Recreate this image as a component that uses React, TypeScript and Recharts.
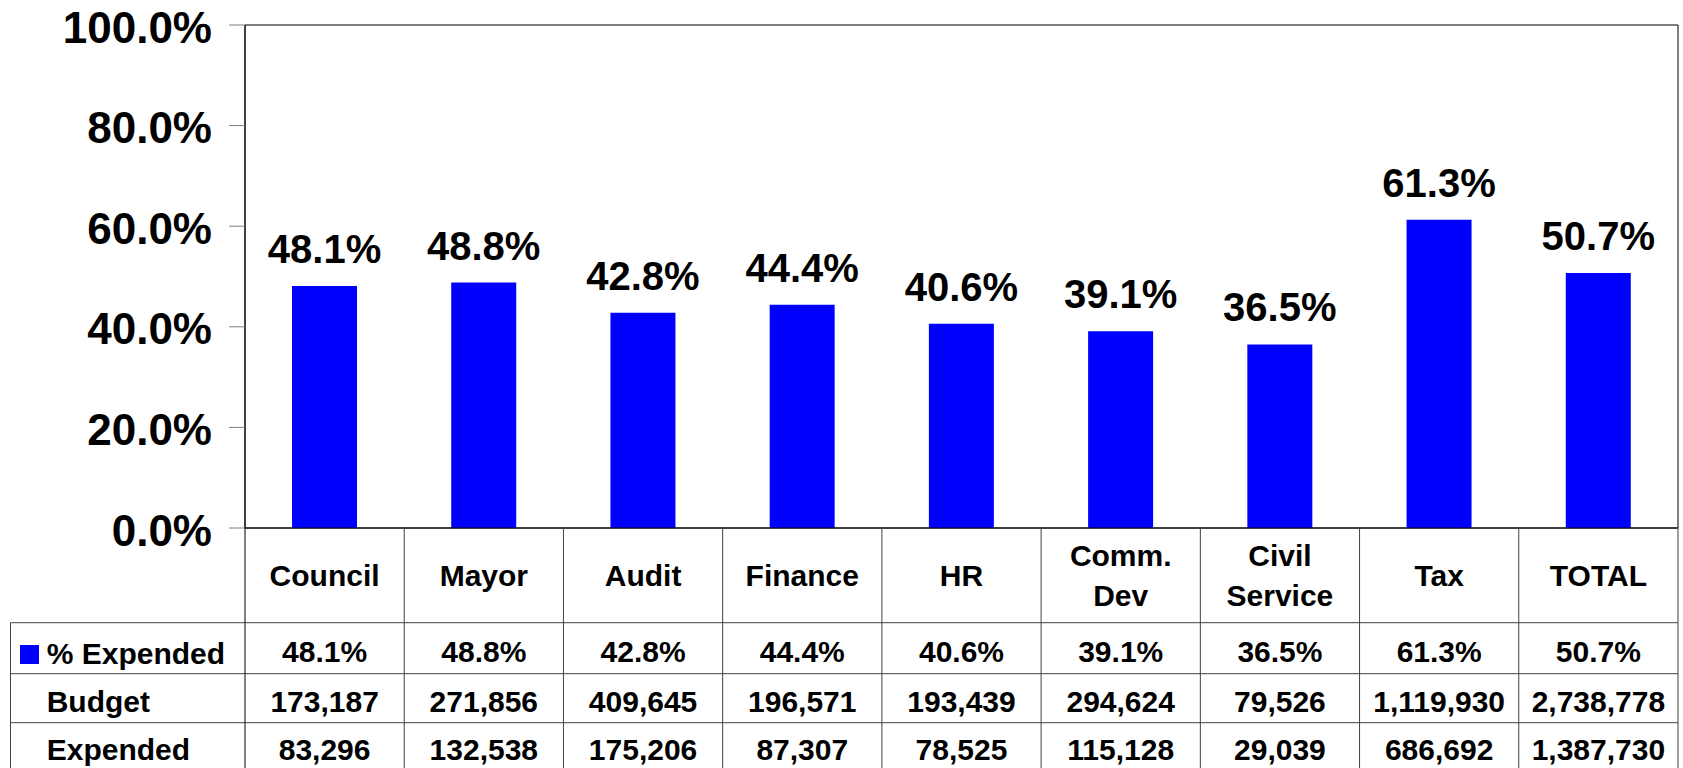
import React from 'react';
import { BarChart, Bar, XAxis, YAxis, LabelList, ReferenceArea } from 'recharts';

const categories = ['Council', 'Mayor', 'Audit', 'Finance', 'HR', 'Comm.\nDev', 'Civil\nService', 'Tax', 'TOTAL'];
const pctExpended = [48.1, 48.8, 42.8, 44.4, 40.6, 39.1, 36.5, 61.3, 50.7];
const budget = [173187, 271856, 409645, 196571, 193439, 294624, 79526, 1119930, 2738778];
const expended = [83296, 132538, 175206, 87307, 78525, 115128, 29039, 686692, 1387730];
const yTicks = [0, 20, 40, 60, 80, 100];
const rowLabels = ['% Expended', 'Budget', 'Expended'];

const data = categories.map((name, i) => ({ name, pct: pctExpended[i] }));

const FONT = '"Liberation Sans", Arial, Helvetica, sans-serif';
const BLUE = '#0000FF';
const LINE = '#404040';
const fmtPct = (v: number) => `${Number(v).toFixed(1)}%`;
const fmtNum = (n: number) => n.toLocaleString('en-US');

const TableTick = (props: any) => {
  const { x, y, payload } = props;
  const index: number = payload?.index ?? props.index ?? 0;
  const half: number = payload?.offset > 0 ? payload.offset : 1433 / 18;
  const left = x - half;
  const right = x + half;
  const bottom = 770;
  const hdrBottom = y + 94.7;
  const r1 = y + 145.7;
  const r2 = y + 194.7;
  const lines = String(payload.value).split('\n');
  const tp = {
    fontFamily: FONT,
    fontWeight: 'bold' as const,
    fontSize: 30,
    fill: '#000',
  };
  const headerYs = lines.length === 1 ? [y + 57.7] : [y + 37.7, y + 78];
  const tableLeft = 10.5;
  return (
    <g>
      {index === 0 && (
        <g>
          <line x1={tableLeft} x2={left} y1={hdrBottom} y2={hdrBottom} stroke={LINE} />
          <line x1={tableLeft} x2={left} y1={r1} y2={r1} stroke={LINE} />
          <line x1={tableLeft} x2={left} y1={r2} y2={r2} stroke={LINE} />
          <line x1={tableLeft} x2={tableLeft} y1={hdrBottom} y2={bottom} stroke={LINE} />
          <line x1={left} x2={left} y1={y} y2={bottom} stroke="#000" />
          <rect x={20} y={y + 117} width={19} height={19} fill={BLUE} />
          <text {...tp} x={46.7} y={y + 135.5} textAnchor="start">{rowLabels[0]}</text>
          <text {...tp} x={46.7} y={y + 183.7} textAnchor="start">{rowLabels[1]}</text>
          <text {...tp} x={46.7} y={y + 232} textAnchor="start">{rowLabels[2]}</text>
        </g>
      )}
      <line x1={right} x2={right} y1={y} y2={bottom} stroke={LINE} />
      <line x1={left} x2={right} y1={hdrBottom} y2={hdrBottom} stroke={LINE} />
      <line x1={left} x2={right} y1={r1} y2={r1} stroke={LINE} />
      <line x1={left} x2={right} y1={r2} y2={r2} stroke={LINE} />
      {lines.map((ln, k) => (
        <text key={k} {...tp} x={x} y={headerYs[k]} textAnchor="middle">{ln}</text>
      ))}
      <text {...tp} x={x} y={y + 134.3} textAnchor="middle">{fmtPct(pctExpended[index])}</text>
      <text {...tp} x={x} y={y + 183.7} textAnchor="middle">{fmtNum(budget[index])}</text>
      <text {...tp} x={x} y={y + 232} textAnchor="middle">{fmtNum(expended[index])}</text>
    </g>
  );
};

export default function App() {
  return (
    <div style={{ position: 'absolute', left: 0, top: 0, width: 1683, height: 768, background: '#fff' }}>
      <BarChart
        width={1683}
        height={768}
        data={data}
        margin={{ top: 25, right: 5, left: 0, bottom: 0 }}
        style={{ fontFamily: FONT }}
      >
        <ReferenceArea
          x1="Council"
          x2="TOTAL"
          y1={0}
          y2={100}
          fill="none"
          stroke="#000"
          strokeWidth={1}
          ifOverflow="visible"
        />
        <XAxis
          dataKey="name"
          interval={0}
          height={240}
          tickSize={0}
          tickMargin={0}
          tickLine={false}
          axisLine={{ stroke: '#000' }}
          tick={<TableTick />}
        />
        <YAxis
          width={245}
          domain={[0, 100]}
          ticks={yTicks}
          interval={0}
          tickFormatter={fmtPct}
          tickSize={16}
          tickMargin={17}
          tickLine={{ stroke: '#808080' }}
          axisLine={{ stroke: '#000' }}
          tick={{ fontSize: 44, fontWeight: 'bold', fill: '#000', fontFamily: FONT, dy: 2 }}
        />
        <Bar dataKey="pct" fill={BLUE} barSize={65} isAnimationActive={false}>
          <LabelList
            dataKey="pct"
            position="top"
            offset={23}
            formatter={(v: any) => fmtPct(v)}
            fontSize={40}
            fontWeight="bold"
            fill="#000"
            fontFamily={FONT}
          />
        </Bar>
      </BarChart>
    </div>
  );
}
